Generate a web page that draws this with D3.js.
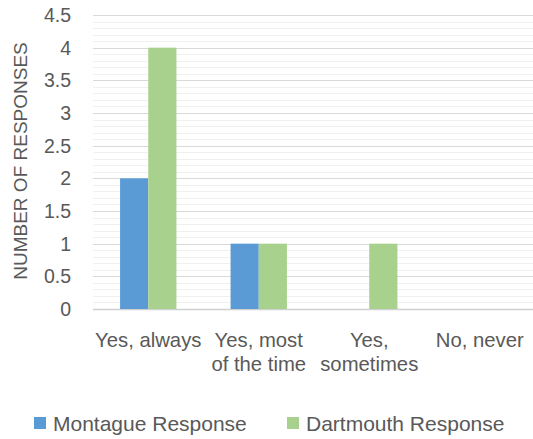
<!DOCTYPE html>
<html>
<head>
<meta charset="utf-8">
<script src="https://cdn.jsdelivr.net/npm/d3@7"></script>
<style>
  body { margin: 0; background: #fff; }
  svg text { font-family: "Liberation Sans", Arial, sans-serif; fill: #595959; }
</style>
</head>
<body>
<div id="chart"></div>
<script>
// survey answers
const categories = ["Yes, always", "Yes, most of the time", "Yes, sometimes", "No, never"]
const seriesNames = ["Montague Response", "Dartmouth Response"]
const montague = [2, 1, 0, 0]
const dartmouth = [4, 1, 1, 0]
const yTicks = [0, 0.5, 1, 1.5, 2, 2.5, 3, 3.5, 4, 4.5]

const width = 533, height = 439
const colors = ["#5b9bd5", "#a9d18e"]

const svg = d3.select("#chart")
    .append("svg")
    .attr("width", width)
    .attr("height", height)

const x = d3.scaleBand()
    .domain(categories)
    .range([93, 535])
    .paddingInner(0.49)
    .paddingOuter(0.245)

const xSub = d3.scaleBand()
    .domain(seriesNames)
    .range([0, x.bandwidth()])

const y = d3.scaleLinear()
    .domain([0, 4.5])
    .range([309, 15])

// minor gridlines every 0.1
svg.append("g")
    .selectAll("line")
    .data(d3.range(1, 45).filter(i => i % 5 != 0).map(i => i / 10))
    .join("line")
    .attr("x1", 93).attr("x2", width)
    .attr("y1", d => Math.round(y(d)) + 0.5)
    .attr("y2", d => Math.round(y(d)) + 0.5)
    .attr("stroke", "#f0f0f0")

// major gridlines
svg.append("g")
    .selectAll("line")
    .data(yTicks)
    .join("line")
    .attr("x1", 93).attr("x2", width)
    .attr("y1", d => Math.round(y(d)) + 0.5)
    .attr("y2", d => Math.round(y(d)) + 0.5)
    .attr("stroke", d => d == 0 ? "#d0d0d0" : "#d9d9d9")
    .attr("stroke-width", d => d == 0 ? 1.5 : 1)

// y labels
svg.append("g")
    .selectAll("text")
    .data(yTicks)
    .join("text")
    .attr("x", 71)
    .attr("y", d => y(d))
    .attr("dy", "0.36em")
    .attr("text-anchor", "end")
    .style("font-size", "19.5px")
    .text(d => d)

// bars
const rows = categories.map((c, i) => ({cat: c, vals: [montague[i], dartmouth[i]]}))

svg.append("g")
    .selectAll("g")
    .data(rows)
    .join("g")
    .attr("transform", d => `translate(${x(d.cat)},0)`)
    .selectAll("rect")
    .data(d => d.vals.map((v, j) => ({name: seriesNames[j], val: v, j: j})))
    .join("rect")
    .attr("x", d => xSub(d.name))
    .attr("y", d => y(d.val))
    .attr("width", xSub.bandwidth())
    .attr("height", d => y(0) - y(d.val))
    .attr("fill", d => colors[d.j])

// x labels, wrapped to the band step like excel does
// each line gets its own text element
const labelSize = 20.3
const xg = svg.append("g")
const measure = xg.append("text").style("font-size", labelSize + "px")

categories.forEach(cat => {
    const words = cat.split(" ")
    const lines = []
    let line = []
    words.forEach(w => {
        line.push(w)
        measure.text(line.join(" "))
        if (measure.node().getComputedTextLength() > x.step() - 1 && line.length > 1) {
            line.pop()
            lines.push(line.join(" "))
            line = [w]
        }
    })
    lines.push(line.join(" "))

    xg.selectAll(null)
        .data(lines)
        .join("text")
        .attr("x", x(cat) + x.bandwidth() / 2)
        .attr("y", (d, i) => 347 + i * 23.5)
        .attr("text-anchor", "middle")
        .style("font-size", labelSize + "px")
        .text(d => d)
})
measure.remove()

// y axis title
svg.append("text")
    .attr("transform", "translate(27,161) rotate(-90)")
    .attr("text-anchor", "middle")
    .style("font-size", "19px")
    .text("NUMBER OF RESPONSES")

// legend
const legendX = [34, 287]
const legend = svg.append("g")
    .selectAll("g")
    .data(seriesNames)
    .join("g")
    .attr("transform", (d, i) => `translate(${legendX[i]},417)`)

legend.append("rect")
    .attr("width", 12)
    .attr("height", 12)
    .attr("fill", (d, i) => colors[i])

legend.append("text")
    .attr("x", 19)
    .attr("y", 13.5)
    .style("font-size", "21px")
    .text(d => d)
</script>
</body>
</html>
